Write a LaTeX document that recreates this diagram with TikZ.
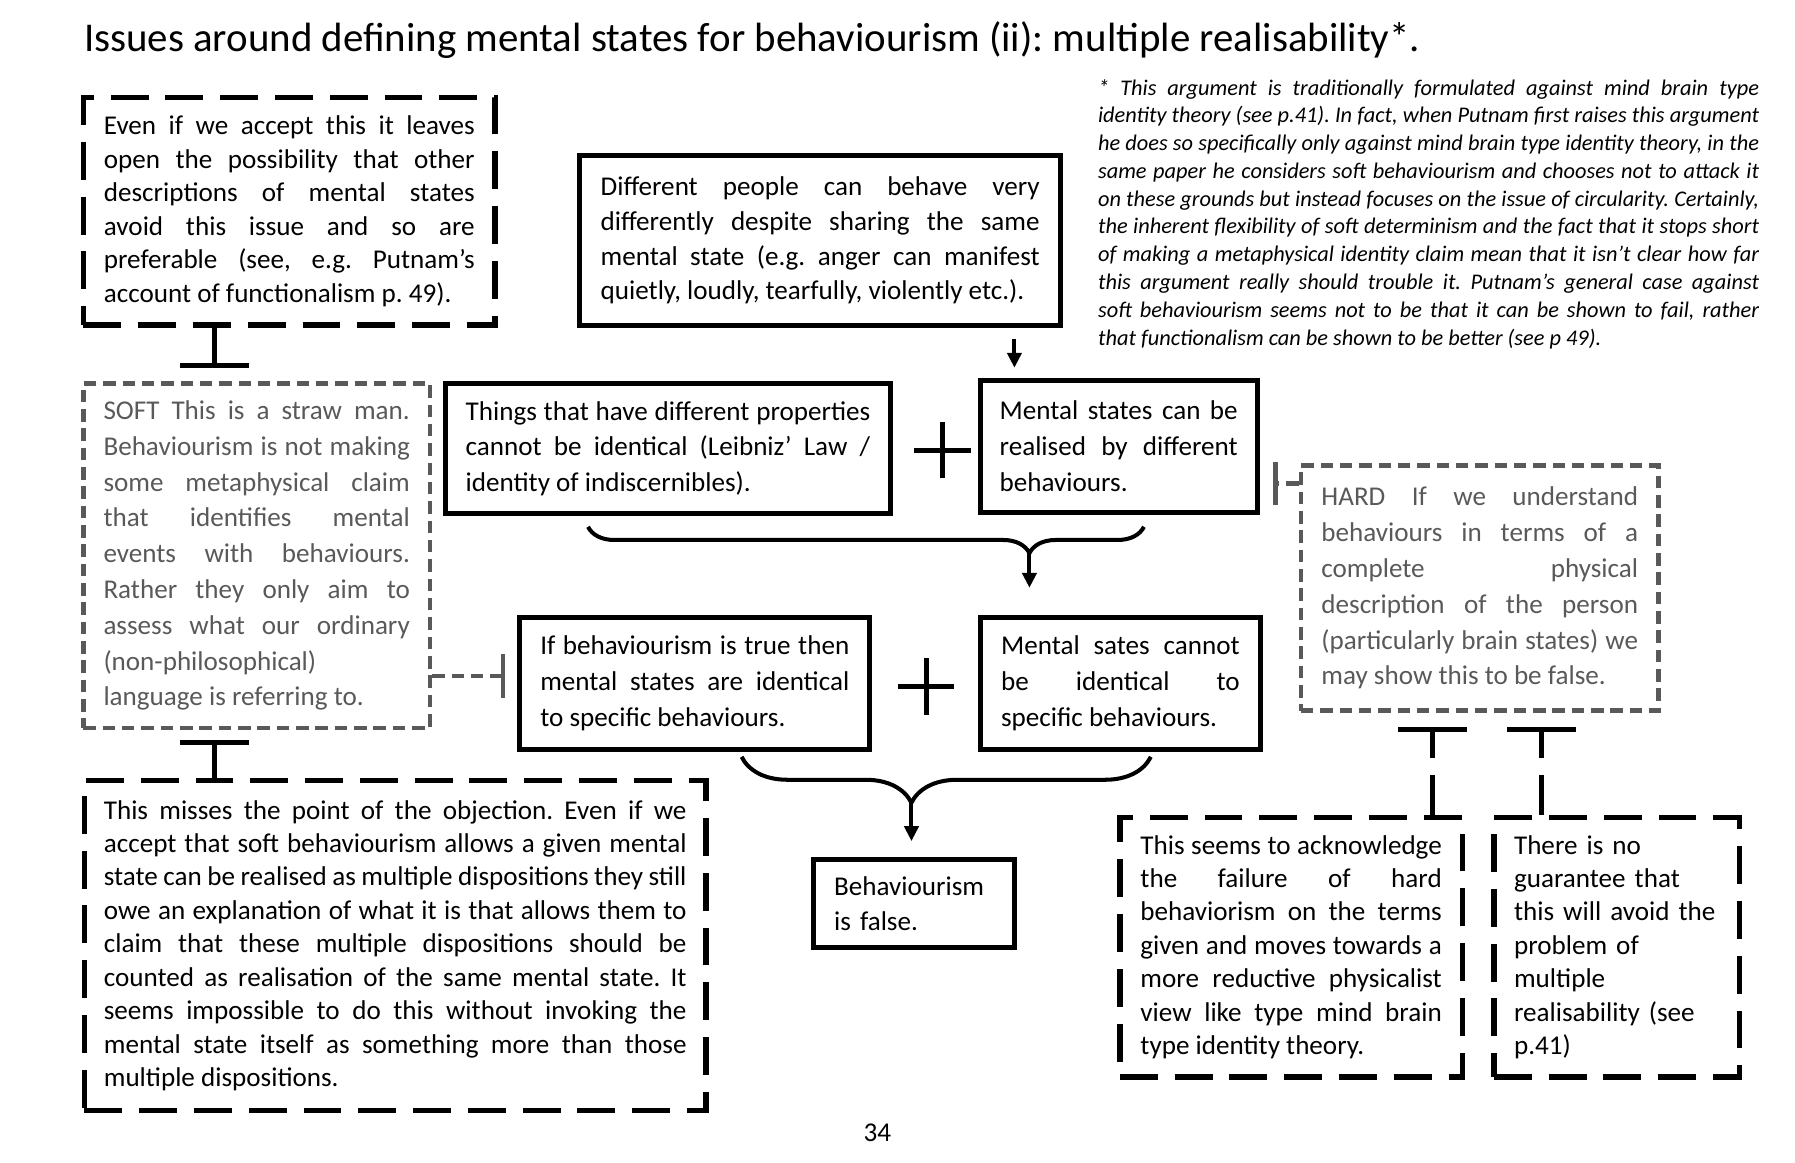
\documentclass[tikz,border=0pt]{standalone}
\usepackage{fontspec}
\setmainfont{Carlito}
\usepackage{tikz}
\usepackage[dvipsnames]{xcolor}
\usetikzlibrary{arrows.meta}
\usetikzlibrary{decorations.pathreplacing}
\definecolor{softgray}{HTML}{595959}
\tolerance=10000
\hyphenpenalty=10000
\exhyphenpenalty=10000
\frenchspacing

\begin{document}
\begin{tikzpicture}[
    solidbox/.style={draw, line width=1.24pt, inner sep=0pt, align=justify,
      font=\fontsize{6.73}{8.88}\selectfont},
    dashbox/.style={draw, line width=1.37pt, dash pattern=on 9.4pt off 4.2pt,
      inner sep=0pt, align=justify, font=\fontsize{6.73}{8.3}\selectfont},
    graybox/.style={draw=softgray, text=softgray, line width=1.1pt,
      dash pattern=on 3.1pt off 1.7pt, inner sep=0pt, align=justify,
      font=\fontsize{6.73}{8.88}\selectfont},
    tbar/.style={line width=1.24pt, -{Bar[width=0.6cm]}},
    tdash/.style={tbar, dash pattern=on 9.9pt off 4.3pt},
    gbar/.style={softgray, line width=1.1pt, dash pattern=on 3.1pt off 1.7pt,
      -{Bar[width=0.38cm]}},
    flow/.style={line width=1pt, -{Triangle[length=3.7pt,width=3.5pt]}},
    bracket/.style 2 args={line width=1pt, decorate,
      decoration={brace, mirror, amplitude=#1, aspect=#2}},
    plusline/.style={line width=1.25pt}
  ]
      \useasboundingbox (0,0) rectangle (15.66,-10.14);

      %title and footnote
      \node[anchor=base west, inner sep=0pt, font=\fontsize{10.15}{12}\selectfont] (title) at (0.726,-0.451)
        {Issues around defining mental states for behaviourism (ii): multiple realisability*.};
      \node[anchor=base west, inner sep=0pt, text width=5.767cm, align=justify,
        font=\fontsize{5.55}{6.9}\selectfont\itshape] (note) at (9.573,-0.829)
        {* This argument is traditionally formulated against mind brain type\linebreak
         identity theory (see p.41). In fact, when Putnam first raises this argument\linebreak
         he does so specifically only against mind brain type identity theory, in the\linebreak
         same paper he considers soft behaviourism and chooses not to attack it\linebreak
         on these grounds but instead focuses on the issue of circularity. Certainly,\linebreak
         the inherent flexibility of soft determinism and the fact that it stops short\linebreak
         of making a metaphysical identity claim mean that it isn’t clear how far\linebreak
         this argument really should trouble it. Putnam’s general case against\linebreak
         soft behaviourism seems not to be that it can be shown to fail, rather\linebreak
         that functionalism can be shown to be better (see p 49).};

      %objections on the left
      \node[dashbox, minimum width=3.593cm, minimum height=1.986cm, text width=3.235cm] (even) at (2.524,-1.843)
        {Even if we accept this it leaves\linebreak open the possibility that other\linebreak
         descriptions of mental states\linebreak avoid this issue and so are\linebreak
         preferable (see, e.g. Putnam’s\linebreak account of functionalism p. 49).};
      \node[graybox, minimum width=3.025cm, minimum height=3.005cm, text width=2.673cm] (soft) at (2.2395,-4.8475)
        {SOFT This is a straw man.\linebreak Behaviourism is not making\linebreak
         some metaphysical claim\linebreak that identifies mental\linebreak
         events with behaviours.\linebreak Rather they only aim to\linebreak
         assess what our ordinary\linebreak (non-philosophical)\\ language is referring to.};
      \node[dashbox, minimum width=5.424cm, minimum height=2.88cm, text width=5.084cm] (miss) at (3.448,-8.25)
        {This misses the point of the objection. Even if we\linebreak
         accept that soft behaviourism allows a given mental\linebreak
         state can be realised as multiple dispositions they still\linebreak
         owe an explanation of what it is that allows them to\linebreak
         claim that these multiple dispositions should be\linebreak
         counted as realisation of the same mental state. It\linebreak
         seems impossible to do this without invoking the\linebreak
         mental state itself as something more than those\linebreak
         multiple dispositions.};

      %the argument
      \node[solidbox, minimum width=4.19cm, minimum height=1.476cm, text width=3.83cm,
        font=\fontsize{6.73}{8.65}\selectfont] (diff) at (7.155,-2.098)
        {Different people can behave very\linebreak differently despite sharing the same\linebreak
         mental state (e.g. anger can manifest\linebreak quietly, loudly, tearfully, violently etc.).};
      \node[solidbox, minimum width=3.877cm, minimum height=1.13cm, text width=3.53cm] (things) at (5.8275,-3.915)
        {Things that have different properties\linebreak cannot be identical (Leibniz’ Law /\linebreak
         identity of indiscernibles).};
      \node[solidbox, minimum width=2.42cm, minimum height=1.158cm, text width=2.077cm] (mental) at (9.76,-3.895)
        {Mental states can be\linebreak realised by different\linebreak behaviours.};
      \node[solidbox, minimum width=3.057cm, minimum height=1.149cm, text width=2.696cm] (ifbeh) at (6.0615,-5.9615)
        {If behaviourism is true then\linebreak mental states are identical\linebreak to specific behaviours.};
      \node[solidbox, minimum width=2.45cm, minimum height=1.149cm, text width=2.082cm] (sates) at (9.775,-5.9615)
        {Mental sates cannot\linebreak be identical to\linebreak specific behaviours.};
      \node[solidbox, minimum width=1.755cm, minimum height=0.77cm, text width=1.39cm, align=left] (false) at (7.9725,-7.885)
        {Behaviourism\\ is false.};

      %objections on the right
      \node[graybox, minimum width=3.12cm, minimum height=2.137cm, text width=2.763cm] (hard) at (12.91,-5.1315)
        {HARD If we understand\linebreak behaviours in terms of a\linebreak complete physical\linebreak
         description of the person\linebreak (particularly brain states) we\linebreak may show this to be false.};
      \node[dashbox, minimum width=2.988cm, minimum height=2.263cm, text width=2.629cm] (ackn) at (11.264,-8.2635)
        {This seems to acknowledge\linebreak the failure of hard\linebreak behaviorism on the terms\linebreak
         given and moves towards a\linebreak more reductive physicalist\linebreak view like type mind brain\linebreak
         type identity theory.};
      \node[dashbox, minimum width=2.142cm, minimum height=2.263cm, text width=1.79cm, align=left] (noguar) at (14.104,-8.2635)
        {There is no\\ guarantee that\\ this will avoid the\\ problem of\\ multiple\\ realisability (see\\ p.41)};

      %page number
      \node[anchor=base, inner sep=0pt, font=\fontsize{6.73}{8}\selectfont] (pagenum) at (7.655,-9.956) {34};

      % plus signs
      \coordinate (plusA) at (8.225,-3.927);
      \coordinate (plusB) at (8.08,-5.99);
      \draw[plusline] ([xshift=-0.25cm]plusA) -- ([xshift=0.25cm]plusA)
                      ([yshift=-0.247cm]plusA) -- ([yshift=0.247cm]plusA);
      \draw[plusline] ([xshift=-0.245cm]plusB) -- ([xshift=0.245cm]plusB)
                      ([yshift=-0.25cm]plusB) -- ([yshift=0.25cm]plusB);

      % arrows and braces
      \coordinate (arrA) at (8.85,0);
      \draw[flow, shorten <=0.104cm, shorten >=0.086cm] (diff.south -| arrA) -- (mental.north -| arrA);

      \draw[bracket={0.23cm}{0.794}] (5.13,-4.596) -- (9.98,-4.596);
      \coordinate (tipA) at (8.981,-4.826);
      \draw[flow, shorten >=0.237cm] (tipA) -- (sates.north -| tipA);

      \draw[bracket={0.4cm}{0.415}] (6.47,-6.603) -- (10.04,-6.603);
      \coordinate (tipB) at (7.952,-7.003);
      \draw[flow, shorten >=0.14cm] (tipB) -- (false.north -| tipB);

      % objection bars
      \coordinate (tA) at (1.868,0);
      \draw[tbar, shorten >=0.116cm] (even.south -| tA) -- (soft.north -| tA);
      \draw[tbar, shorten >=0.09cm] (miss.north -| tA) -- (soft.south -| tA);

      \coordinate (gA) at (0,-5.896);
      \coordinate (gB) at (0,-4.218);
      \draw[gbar, shorten >=0.103cm] (soft.east |- gA) -- (ifbeh.west |- gA);
      \draw[gbar, shorten >=0.118cm] (hard.west |- gB) -- (mental.east |- gB);

      \coordinate (tB) at (12.50,0);
      \coordinate (tC) at (13.45,0);
      \draw[tdash, shorten >=0.126cm] (ackn.north -| tB) -- (hard.south -| tB);
      \draw[tdash, shorten >=0.126cm] (noguar.north -| tC) -- (hard.south -| tC);
\end{tikzpicture}
\end{document}
